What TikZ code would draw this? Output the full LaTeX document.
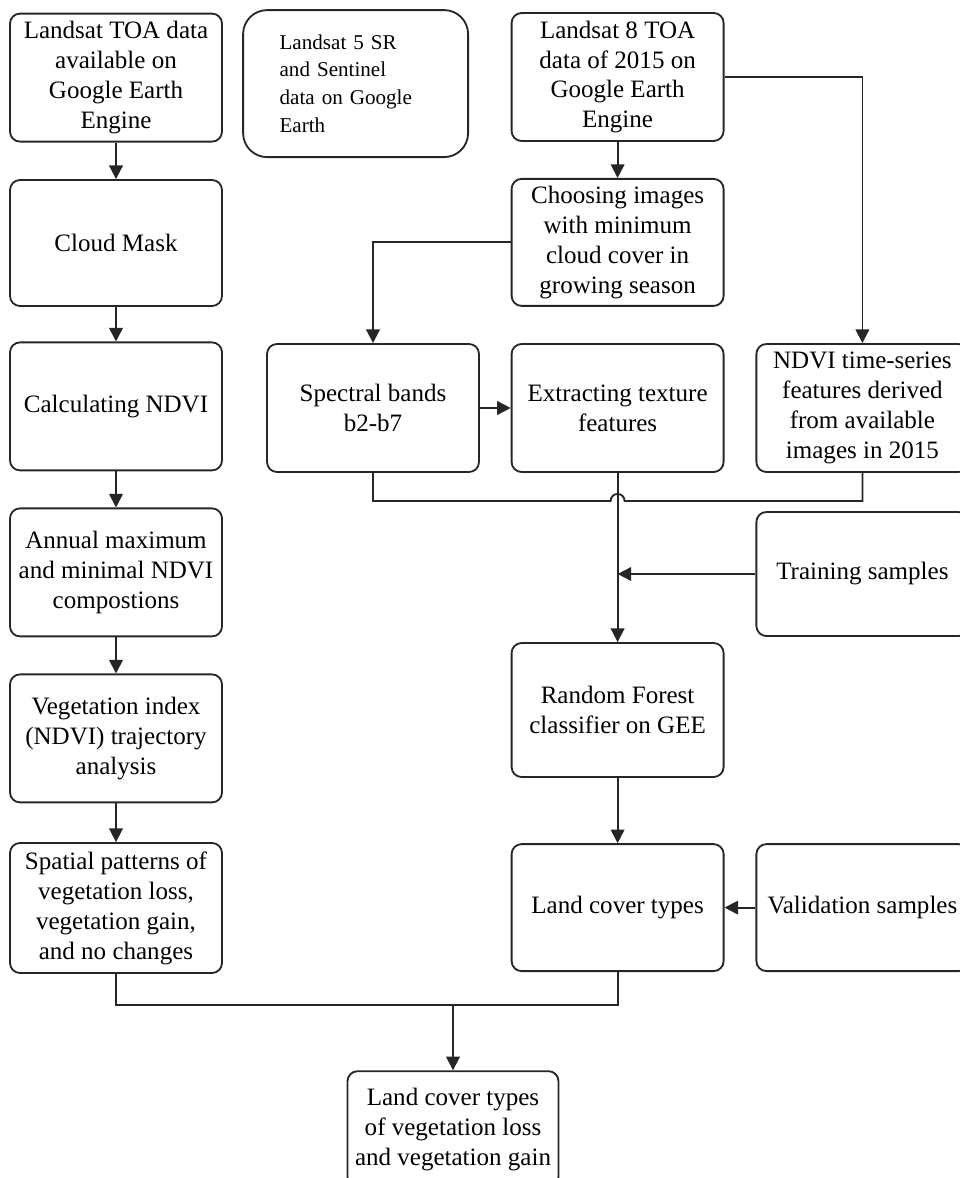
\documentclass[tikz,border=0pt]{standalone}
\usepackage{fontspec}
\setmainfont{Liberation Serif}
\usepackage{tikz}
\usetikzlibrary{calc}
\usetikzlibrary{arrows.meta}

\begin{document}
\begin{tikzpicture}[
	stage/.style={draw=black!85,line width=1.3pt,rounded corners=0.25cm,align=center,
		minimum width=5.3cm,minimum height=3.2cm,inner sep=2pt,
		font=\fontsize{17.8}{21.3}\selectfont},
	arr/.style={line width=1.3pt,draw=black!85,-{Triangle[length=0.34cm,width=0.34cm]}},
	link/.style={line width=1.3pt,draw=black!85}
	]
				\useasboundingbox (0,0) rectangle (24,-29.45);
				
				% left column
				\node[stage] (l1) at (2.9,-1.94) {Landsat TOA data\\available on\\Google Earth\\Engine};
				\node[stage,minimum height=3.15cm] (l2) at (2.9,-6.075) {Cloud Mask};
				\node[stage] (l3) at (2.9,-10.16) {Calculating NDVI};
				\node[stage] (l4) at (2.9,-14.31) {Annual maximum\\and minimal NDVI\\compostions};
				\node[stage] (l5) at (2.9,-18.46) {Vegetation index\\(NDVI) trajectory\\analysis};
				\node[stage,minimum height=3.25cm] (l6) at (2.9,-22.7) {Spatial patterns of\\vegetation loss,\\vegetation gain,\\and no changes};
				
				\node[draw=black!85,line width=1.3pt,rounded corners=0.6cm,minimum width=5.625cm,minimum height=3.675cm,
					text width=3.8cm,align=left,font=\fontsize{15}{19.7}\selectfont] (s5) at (8.89,-2.09)
					{Landsat 5 SR\\and Sentinel\\data on Google\\Earth};
				
				% right part
				\node[stage] (r1) at (15.44,-1.925) {Landsat 8 TOA\\data of 2015 on\\Google Earth\\Engine};
				\node[stage,minimum height=3.175cm] (choose) at (15.44,-6.06) {Choosing images\\with minimum\\cloud cover in\\growing season};
				\node[stage] (spec) at (9.325,-10.2) {Spectral bands\\b2-b7};
				\node[stage] (extract) at (15.44,-10.2) {Extracting texture\\features};
				\node[stage] (ndvi) at (21.56,-10.2) {NDVI time-series\\features derived\\from available\\images in 2015};
				\node[stage,minimum height=3.1cm] (train) at (21.56,-14.35) {Training samples};
				\node[stage,minimum height=3.35cm] (rf) at (15.44,-17.75) {Random Forest\\classifier on GEE};
				\node[stage,minimum height=3.175cm] (lct) at (15.44,-22.69) {Land cover types};
				\node[stage,minimum height=3.175cm] (valid) at (21.56,-22.69) {Validation samples};
				\node[stage,minimum width=5.275cm,minimum height=2.9cm] (final) at (11.325,-28.23) {Land cover types\\of vegetation loss\\and vegetation gain};
				
				\draw[arr] (l1)--(l2);
				\draw[arr] (l2)--(l3);
				\draw[arr] (l3)--(l4);
				\draw[arr] (l4)--(l5);
				\draw[arr] (l5)--(l6);
				
				\draw[arr] (r1)--(choose);
				\draw[arr] (r1.east) -| (ndvi.north);
				\draw[arr] (choose.west) -| (spec.north);
				\draw[arr] (spec)--(extract);
				
				% joining line with a hop over the vertical one
				\coordinate (hop) at ($(extract.south)+(-0.175,-0.7)$);
				\draw[link] (spec.south) |- (hop) arc[start angle=180,end angle=0,radius=0.175]
					-- ($(ndvi.south)+(0,-0.7)$) -- (ndvi.south);
				\draw[arr] (extract)--(rf);
				\draw[arr] (train.west) -- (train.west -| extract.south);
				\draw[arr] (rf)--(lct);
				\draw[arr] (valid)--(lct);
				
				\coordinate (join) at ($(final.north)+(0,1.625)$);
				\draw[link] (l6.south) |- (join) -| (lct.south);
				\draw[arr] (join)--(final);
			\end{tikzpicture}
\end{document}
